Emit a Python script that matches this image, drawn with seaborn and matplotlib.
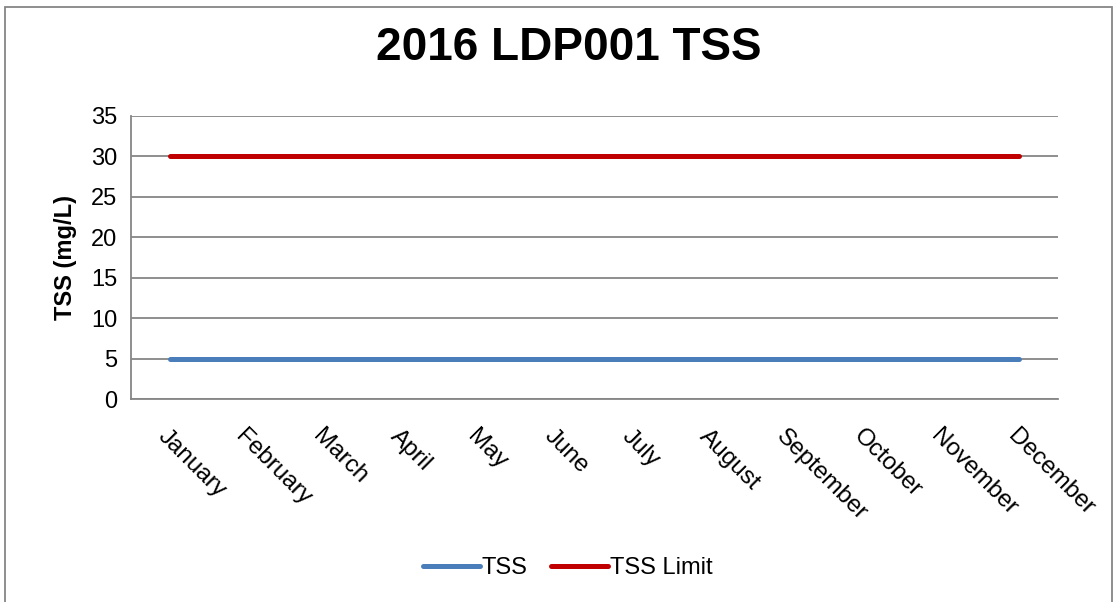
import numpy as np
import pandas as pd
import matplotlib.pyplot as plt
from matplotlib.patches import Rectangle
import seaborn as sns

# ── Data ────────────────────────────────────────────────────────────────────
months = ["January", "February", "March", "April", "May", "June", "July",
          "August", "September", "October", "November", "December"]
tss = [5, 5, 5, 5, 5, 5, 5, 5, 5, 5, 5, 5]
tss_limit = [30, 30, 30, 30, 30, 30, 30, 30, 30, 30, 30, 30]
y_ticks = [0, 5, 10, 15, 20, 25, 30, 35]

df = pd.DataFrame({
    "Month": months * 2,
    "Value": tss + tss_limit,
    "Series": ["TSS"] * len(months) + ["TSS Limit"] * len(months),
})
df["x"] = list(range(len(months))) * 2

sns.set_theme(style="white")
plt.rcParams["font.family"] = ["Liberation Sans", "DejaVu Sans"]
plt.rcParams["text.color"] = "black"
plt.rcParams["xtick.color"] = "black"
plt.rcParams["ytick.color"] = "black"
plt.rcParams["axes.labelcolor"] = "black"

fig = plt.figure(figsize=(11.18, 6.02), dpi=100)
ax = fig.add_axes([131 / 1118, 1 - 399 / 602, 927 / 1118, 283 / 602])

sns.lineplot(data=df, x="x", y="Value", hue="Series",
             palette={"TSS": "#4A7EBB", "TSS Limit": "#C00000"},
             lw=3.6, ax=ax, legend=True, solid_capstyle="round")

ax.set_xlim(-0.5, len(months) - 0.5)
ax.set_ylim(0, 35)
ax.set_yticks(y_ticks)
ax.set_yticklabels([str(t) for t in y_ticks], fontsize=17)
ax.set_xticks(range(len(months)))
ax.set_xticklabels(months, fontsize=17.5, rotation=-45, ha="left",
                   va="top", rotation_mode="anchor")
ax.tick_params(axis="x", length=0, pad=19)
ax.tick_params(axis="y", length=0, pad=10)
ax.grid(axis="y", color="#868686", lw=1.3)
ax.set_axisbelow(True)
for s in ["top", "right"]:
    ax.spines[s].set_visible(False)
for s in ["left", "bottom"]:
    ax.spines[s].set_color("#868686")
    ax.spines[s].set_linewidth(1.3)

ax.set_xlabel("")
ax.set_ylabel("TSS (mg/L)", fontsize=17, fontweight="bold", labelpad=10)
fig.text(0.509, 1 - 48 / 602, "2016 LDP001 TSS", ha="center", va="center",
         fontsize=33, fontweight="bold")

handles, labels = ax.get_legend_handles_labels()
ax.legend(handles, labels, loc="center", bbox_to_anchor=(0.508, 1 - 568 / 602),
          bbox_transform=fig.transFigure, ncol=2, frameon=False,
          fontsize=17, handlelength=2.4, handletextpad=0.1, columnspacing=1.0)

# outer chart border
fig.patches.append(Rectangle((5 / 1118, -0.1), 1107 / 1118, 1.1 - 7 / 602,
                             transform=fig.transFigure, fill=False,
                             edgecolor="#868686", lw=1.3))

fig.savefig("out.png", dpi=100)
